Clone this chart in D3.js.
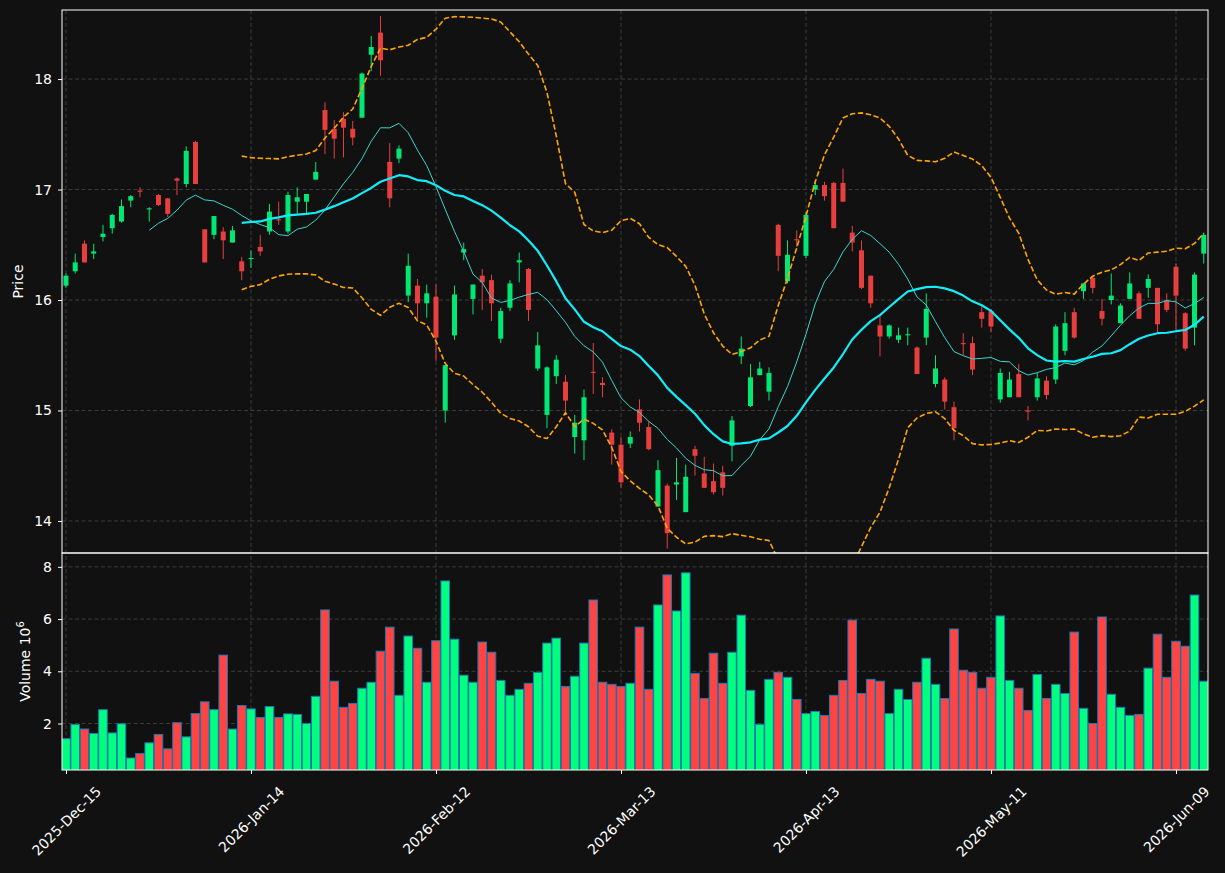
<!DOCTYPE html>
<html lang="en">
<head>
<meta charset="UTF-8">
<title>Candlestick chart</title>
<style>
  html, body { margin: 0; padding: 0; background: #111111; }
  svg { display: block; font-family: "DejaVu Sans", sans-serif; }
  .tick text { fill: #ffffff; font-size: 14px; font-family: "DejaVu Sans", sans-serif; }
  .tick line { stroke: #ffffff; }
  .domain { display: none; }
</style>
</head>
<body>
<div id="chart"></div>
<script src="https://d3js.org/d3.v7.min.js"></script>
<script>
// OHLC per trading day (index 0 = 2025-12-15)
const open = [16.13,16.26,16.51,16.42,16.57,16.65,16.71,16.90,16.99,16.82,
  16.95,16.92,17.10,17.05,17.43,16.64,16.59,16.62,16.52,16.35,
  16.38,16.48,16.62,16.73,16.62,16.89,16.89,17.09,17.72,17.55,
  17.64,17.55,17.65,18.22,18.42,17.25,17.28,16.04,16.13,15.97,
  16.03,15.00,15.68,16.43,16.01,16.22,16.18,15.65,15.93,16.34,
  16.28,15.38,14.96,15.31,15.26,14.76,14.73,15.35,15.25,14.80,
  14.69,14.70,15.01,14.85,14.13,14.32,14.33,14.08,14.65,14.43,
  14.36,14.44,14.68,15.49,15.04,15.32,15.17,16.68,16.17,16.55,
  16.40,17.00,17.04,17.06,17.06,16.61,16.45,16.22,15.77,15.67,
  15.64,15.68,15.57,15.66,15.24,15.28,15.03,15.61,15.61,15.89,
  15.90,15.10,15.12,15.33,15.00,15.12,15.27,15.28,15.54,15.89,
  16.08,16.20,15.90,16.00,15.79,16.01,16.06,16.11,16.11,16.00,
  16.30,15.88,15.75,16.42];
const high = [16.24,16.42,16.54,16.51,16.68,16.78,16.91,16.95,17.02,16.84,
  16.96,16.92,17.11,17.39,17.44,16.64,16.76,16.66,16.67,16.39,
  16.45,16.59,16.87,16.89,16.98,17.02,16.96,17.25,17.79,17.63,
  17.70,17.62,18.06,18.39,18.57,17.42,17.40,16.42,16.19,16.14,
  16.14,15.41,16.13,16.52,16.14,16.28,16.23,15.93,16.18,16.43,
  16.29,15.71,15.40,15.50,15.32,14.96,15.19,15.61,15.30,14.83,
  14.76,14.81,15.10,14.90,14.55,14.34,14.57,14.51,14.68,14.58,
  14.52,14.50,14.95,15.67,15.42,15.44,15.39,16.69,16.54,16.63,
  16.80,17.08,17.07,17.07,17.19,16.67,16.54,16.22,15.86,15.78,
  15.75,15.75,15.58,16.06,15.50,15.30,15.08,15.70,15.67,15.94,
  15.92,15.38,15.35,15.42,15.04,15.34,15.31,15.78,15.89,15.93,
  16.15,16.21,16.01,16.24,15.97,16.25,16.08,16.23,16.11,16.06,
  16.33,15.89,16.25,16.61];
const low = [16.11,16.24,16.34,16.37,16.53,16.60,16.70,16.84,16.93,16.71,
  16.85,16.75,16.95,17.02,17.05,16.34,16.55,16.37,16.52,16.18,
  16.29,16.40,16.59,16.68,16.60,16.78,16.78,17.09,17.32,17.28,
  17.29,17.40,17.65,18.07,18.03,16.84,17.24,15.98,15.83,15.84,
  15.45,14.89,15.64,16.36,15.87,15.91,15.81,15.61,15.90,16.16,
  15.81,15.36,14.84,15.24,14.96,14.61,14.55,15.15,15.12,14.51,
  14.30,14.66,14.81,14.64,14.13,13.75,14.19,14.08,14.41,14.30,
  14.24,14.23,14.54,15.42,15.03,15.32,15.09,16.26,16.15,16.48,
  16.38,16.95,16.90,16.65,16.89,16.44,16.10,15.93,15.49,15.65,
  15.61,15.59,15.33,15.59,15.21,15.01,14.73,15.50,15.32,15.75,
  15.71,15.07,15.12,15.12,14.91,15.09,15.10,15.24,15.50,15.65,
  16.01,16.06,15.77,15.96,15.79,16.01,15.83,16.02,15.71,15.89,
  15.73,15.54,15.59,16.33];
const close = [16.22,16.34,16.34,16.44,16.60,16.77,16.85,16.94,16.98,16.83,
  16.86,16.78,17.08,17.35,17.05,16.34,16.76,16.54,16.63,16.26,
  16.38,16.44,16.80,16.72,16.95,16.93,16.96,17.16,17.54,17.46,
  17.56,17.47,18.05,18.29,18.17,16.92,17.37,16.31,15.97,16.06,
  15.66,15.41,16.05,16.46,16.14,16.16,15.97,15.90,16.15,16.36,
  15.91,15.59,15.39,15.46,15.09,14.89,15.12,15.34,15.23,14.69,
  14.35,14.76,14.89,14.65,14.46,13.89,14.35,14.40,14.59,14.30,
  14.26,14.30,14.91,15.56,15.30,15.38,15.34,16.40,16.41,16.54,
  16.77,17.04,16.94,16.65,16.89,16.52,16.11,15.97,15.67,15.77,
  15.68,15.69,15.33,15.92,15.38,15.08,14.84,15.60,15.37,15.83,
  15.76,15.34,15.28,15.12,14.99,15.29,15.14,15.76,15.79,15.66,
  16.15,16.11,15.83,16.04,15.95,16.15,15.83,16.19,15.78,15.91,
  16.04,15.56,16.23,16.59];
// volume in millions
const volume = [1.42,1.96,1.79,1.62,2.53,1.64,1.99,0.68,0.85,1.26,
  1.58,1.03,2.03,1.49,2.38,2.83,2.53,4.62,1.79,2.69,
  2.56,2.23,2.65,2.23,2.37,2.35,2.00,3.04,6.35,3.62,
  2.62,2.77,3.35,3.58,4.77,5.69,3.08,5.35,4.88,3.58,
  5.17,7.46,5.23,3.85,3.58,5.12,4.73,3.65,3.08,3.31,
  3.54,3.96,5.08,5.27,3.42,3.81,5.08,6.73,3.58,3.50,
  3.42,3.54,5.69,3.31,6.54,7.69,6.31,7.77,3.92,2.96,
  4.69,3.54,4.73,6.15,3.27,1.97,3.69,3.96,3.77,2.92,
  2.38,2.46,2.31,3.08,3.65,5.96,3.15,3.69,3.62,2.38,
  3.31,2.92,3.58,4.50,3.50,2.96,5.62,4.04,3.96,3.35,
  3.77,6.12,3.65,3.35,2.50,3.88,2.96,3.50,3.15,5.50,
  2.58,2.00,6.08,3.12,2.62,2.31,2.35,4.12,5.42,3.77,
  5.15,4.96,6.92,3.62];
const tickIndex = [0, 20, 40, 60, 80, 100, 120];
const tickLabels = ["2025-Dec-15","2026-Jan-14","2026-Feb-12","2026-Mar-13","2026-Apr-13","2026-May-11","2026-Jun-09"];
const priceTicks = [14, 15, 16, 17, 18];
const volumeTicks = [2, 4, 6, 8];

const W = 1225, H = 873;
const left = 62, right = 1208;
const pTop = 10, pBottom = 553, vBottom = 770;
const upColor = "#00ff7f", downColor = "#ff4444";

const n = close.length;
const data = d3.range(n).map(i => ({
  i, o: open[i], h: high[i], l: low[i], c: close[i], v: volume[i], up: close[i] >= open[i]
}));

// moving averages and bollinger bands from closes
function sma(p) {
  return data.map((d, i) => i < p - 1 ? null : d3.mean(close.slice(i - p + 1, i + 1)));
}
const ma10 = sma(10), ma20 = sma(20);
const bbUp = [], bbLo = [];
data.forEach((d, i) => {
  if (i < 19) { bbUp.push(null); bbLo.push(null); return; }
  const w = close.slice(i - 19, i + 1);
  const m = d3.mean(w);
  const sd = Math.sqrt(d3.mean(w, v => (v - m) * (v - m)));
  bbUp.push(m + 2 * sd); bbLo.push(m - 2 * sd);
});

const x = d3.scaleLinear().domain([-0.43, n - 1 + 0.46]).range([left, right]);
const y = d3.scaleLinear().domain([13.71, 18.625]).range([pBottom, pTop]);
const yv = d3.scaleLinear().domain([0.22, 8.53]).range([vBottom, pBottom]);

const svg = d3.select("#chart").append("svg").attr("width", W).attr("height", H);
svg.append("rect").attr("width", W).attr("height", H).attr("fill", "#111111");

const defs = svg.append("defs");
defs.append("clipPath").attr("id", "clipP").append("rect")
  .attr("x", left).attr("y", pTop).attr("width", right - left).attr("height", pBottom - pTop);
defs.append("clipPath").attr("id", "clipV").append("rect")
  .attr("x", left).attr("y", pBottom).attr("width", right - left).attr("height", vBottom - pBottom);

// grid
const grid = svg.append("g").attr("stroke", "#3c3c3c").attr("stroke-width", 1).attr("stroke-dasharray", "4,2.5");
grid.selectAll("line.hp").data(priceTicks).join("line")
  .attr("x1", left).attr("x2", right).attr("y1", d => y(d)).attr("y2", d => y(d));
grid.selectAll("line.hv").data(volumeTicks).join("line")
  .attr("x1", left).attr("x2", right).attr("y1", d => yv(d)).attr("y2", d => yv(d));
grid.selectAll("line.vx").data(tickIndex).join("line")
  .attr("x1", d => x(d)).attr("x2", d => x(d)).attr("y1", pTop).attr("y2", vBottom);

// candles
const pg = svg.append("g").attr("clip-path", "url(#clipP)");
const bodyW = 5;
const candles = pg.selectAll("g.c").data(data).join("g").attr("opacity", 0.9);
candles.append("line")
  .attr("x1", d => x(d.i)).attr("x2", d => x(d.i))
  .attr("y1", d => y(d.h)).attr("y2", d => y(d.l))
  .attr("stroke", d => d.up ? upColor : downColor).attr("stroke-width", 1);
candles.append("rect")
  .attr("x", d => x(d.i) - bodyW / 2)
  .attr("y", d => y(Math.max(d.o, d.c)))
  .attr("width", bodyW)
  .attr("height", d => Math.max(1, Math.abs(y(d.o) - y(d.c))))
  .attr("fill", d => d.up ? upColor : downColor);

// lines
function drawLine(arr, color, width, dash) {
  const line = d3.line().defined(v => v !== null).x((v, i) => x(i)).y(v => y(v));
  pg.append("path").datum(arr).attr("d", line)
    .attr("fill", "none").attr("stroke", color).attr("stroke-width", width)
    .attr("stroke-dasharray", dash || null).attr("stroke-linejoin", "round");
}
drawLine(ma10, "#38d6cc", 1);
drawLine(ma20, "#10eefa", 2.2);
drawLine(bbUp, "#ffa500", 1.6, "5.5,2.5");
drawLine(bbLo, "#ffa500", 1.6, "5.5,2.5");

// volume
const vg = svg.append("g").attr("clip-path", "url(#clipV)");
const barW = 8.6;
vg.selectAll("rect").data(data).join("rect")
  .attr("x", d => x(d.i) - barW / 2)
  .attr("y", d => yv(d.v))
  .attr("width", barW)
  .attr("height", d => yv(0.22) - yv(d.v) + 2)
  .attr("fill", d => d.up ? upColor : downColor)
  .attr("stroke", "#1f77b4").attr("stroke-width", 1);

// frames
svg.append("rect").attr("x", left).attr("y", pTop).attr("width", right - left).attr("height", pBottom - pTop)
  .attr("fill", "none").attr("stroke", "#ffffff").attr("stroke-width", 1);
svg.append("rect").attr("x", left).attr("y", pBottom).attr("width", right - left).attr("height", vBottom - pBottom)
  .attr("fill", "none").attr("stroke", "#ffffff").attr("stroke-width", 1);

// axes
svg.append("g").attr("transform", `translate(${left},0)`)
  .call(d3.axisLeft(y).tickValues(priceTicks).tickSize(4).tickPadding(6).tickFormat(d3.format("d")));
svg.append("g").attr("transform", `translate(${left},0)`)
  .call(d3.axisLeft(yv).tickValues(volumeTicks).tickSize(4).tickPadding(6).tickFormat(d3.format("d")));
const xa = svg.append("g").attr("transform", `translate(0,${vBottom})`)
  .call(d3.axisBottom(x).tickValues(tickIndex).tickSize(4).tickFormat((d, i) => tickLabels[i]));
// rotated labels centred under the tick, bounding box top just below the tick mark
xa.selectAll(".tick text").each(function() {
  const t = d3.select(this);
  const len = this.getComputedTextLength();
  const boxH = (len + 14) / Math.SQRT2;
  t.attr("text-anchor", "middle").attr("dy", "0.35em").attr("y", null)
    .attr("transform", `translate(0,${14 + boxH / 2}) rotate(-45)`);
});

// axis labels
svg.append("text").attr("transform", `translate(23,${(pTop + pBottom) / 2}) rotate(-90)`)
  .attr("text-anchor", "middle").attr("fill", "#ffffff").attr("font-size", 14).text("Price");
const vl = svg.append("text").attr("transform", `translate(30,${(pBottom + vBottom) / 2}) rotate(-90)`)
  .attr("text-anchor", "middle").attr("fill", "#ffffff").attr("font-size", 14);
vl.append("tspan").text("Volume  10");
vl.append("tspan").attr("font-size", 10).attr("dy", -6).text("6");
</script>
</body>
</html>
